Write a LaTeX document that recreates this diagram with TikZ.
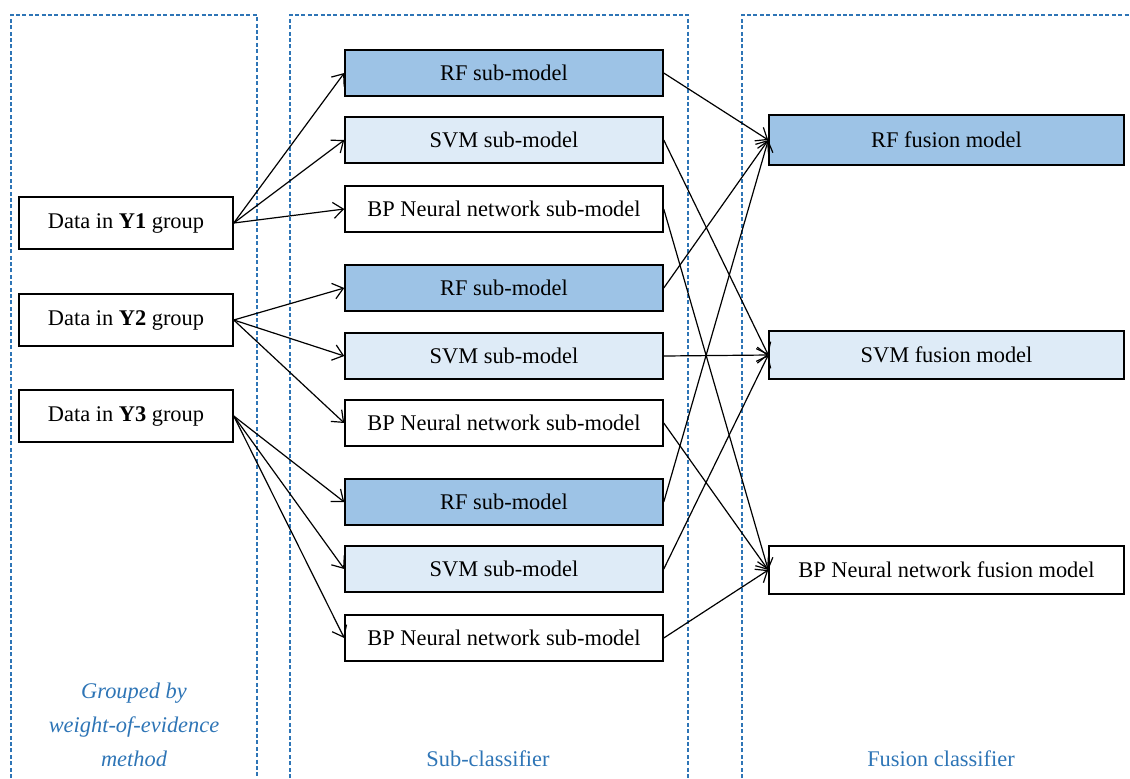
\documentclass[tikz,border=0pt]{standalone}
\usepackage{fontspec}
\setmainfont{Liberation Serif}
\usetikzlibrary{arrows.meta}
\definecolor{rfblue}{RGB}{157,195,230}
\definecolor{svmblue}{RGB}{222,235,247}
\definecolor{dashblue}{RGB}{46,117,182}
\begin{document}
\begin{tikzpicture}[x=0.5pt,y=-0.5pt,
  txt/.style={font=\fontsize{11.2}{13}\selectfont},
  box/.style={txt, draw=black, line width=0.75pt, inner sep=0pt},
  leftbox/.style={box, fill=white, minimum width=107pt, minimum height=26pt},
  midbox/.style={box, minimum width=159pt, minimum height=23pt},
  fusbox/.style={box, minimum width=177.5pt, minimum height=24pt},
  rfc/.style={fill=rfblue},
  svmc/.style={fill=svmblue},
  bpc/.style={fill=white},
  panel/.style={draw=dashblue, line width=0.7pt, dash pattern=on 2pt off 1.2pt},
  lbl/.style={txt, text=dashblue, align=center},
  conn/.style={draw=black, line width=0.6pt, -{Straight Barb[length=5pt,width=8pt]}}
]
\useasboundingbox (0,0) rectangle (1130,778);
% panels
\draw[panel] (11,778) -- (11,15) -- (257,15) -- (257,778);
\draw[panel] (290,778) -- (290,15) -- (688,15) -- (688,778);
\draw[panel] (742,778) -- (742,15) -- (1130,15);

% left nodes
\node[leftbox] (y1) at (126,223) {Data in \textbf{Y1} group};
\node[leftbox] (y2) at (126,320) {Data in \textbf{Y2} group};
\node[leftbox] (y3) at (126,416) {Data in \textbf{Y3} group};

% middle nodes
\node[midbox,rfc]  (rf1)  at (504,73)  {RF sub-model};
\node[midbox,svmc] (svm1) at (504,140) {SVM sub-model};
\node[midbox,bpc]  (bp1)  at (504,209) {BP Neural network sub-model};
\node[midbox,rfc]  (rf2)  at (504,288) {RF sub-model};
\node[midbox,svmc] (svm2) at (504,356) {SVM sub-model};
\node[midbox,bpc]  (bp2)  at (504,423) {BP Neural network sub-model};
\node[midbox,rfc]  (rf3)  at (504,502) {RF sub-model};
\node[midbox,svmc] (svm3) at (504,569) {SVM sub-model};
\node[midbox,bpc]  (bp3)  at (504,638) {BP Neural network sub-model};

% fusion nodes
\node[fusbox,rfc,minimum height=25pt]  (rff)  at (946.5,140) {RF fusion model};
\node[fusbox,svmc] (svmf) at (946.5,355) {SVM fusion model};
\node[fusbox,bpc]  (bpf)  at (946.5,570) {BP Neural network fusion model};

% labels
\node[lbl,font=\fontsize{11.2}{17}\selectfont\itshape] (l1) at (134,725) {Grouped by\\weight-of-evidence\\method};
\node[lbl] (l2) at (488,759) {Sub-classifier};
\node[lbl] (l3) at (941,759) {Fusion classifier};

% connectors left -> middle
\foreach \s/\t in {y1/rf1,y1/svm1,y1/bp1,y2/rf2,y2/svm2,y2/bp2,y3/rf3,y3/svm3,y3/bp3}
  \draw[conn] (\s.east) -- (\t.west);
% connectors middle -> fusion
\foreach \s/\t in {rf1/rff,rf2/rff,rf3/rff,svm1/svmf,svm2/svmf,svm3/svmf,bp1/bpf,bp2/bpf,bp3/bpf}
  \draw[conn] (\s.east) -- (\t.west);
\end{tikzpicture}
\end{document}
